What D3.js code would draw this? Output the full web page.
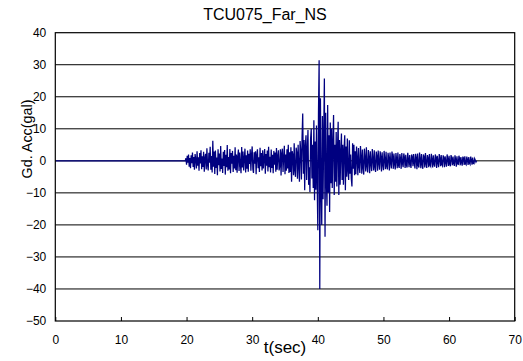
<!DOCTYPE html>
<html>
<head>
<meta charset="utf-8">
<script src="https://cdn.jsdelivr.net/npm/d3@7"></script>
<style>
  body { margin: 0; background: #fff; }
  svg { display: block; font-family: "Liberation Sans", Arial, sans-serif; }
</style>
</head>
<body>
<div id="chart"></div>
<script>
// chart text
var chartTitle = "TCU075_Far_NS";
var xLabel = "t(sec)";
var yLabel = "Gd. Acc(gal)";

// axis ticks
var xTicks = [0, 10, 20, 30, 40, 50, 60, 70];
var yTicks = [-50, -40, -30, -20, -10, 0, 10, 20, 30, 40];

// quiet part of the record (before the shaking starts)
var quietTimes = [0, 19.7];
var quietAcc = [0, 0];

var recStart = 19.8;
var recStep = 0.1;
var recAcc = [
    0, 0.8, -1.2, 1.6, -0.6, 2.0, -1.8, 0.9, -2.3, 1.7,
    -0.7, 2.6, -1.9, 1.2, -2.8, 2.1, 0.4, -2.4, 3.0, -1.5,
    1.1, -3.1, 2.4, -0.8, 3.3, -2.6, 1.4, -1.9, 2.8, -3.4,
    0.9, 2.2, -2.7, 3.9, -1.3, -3.0, 2.5, -0.6, 4.4, -2.8,
    1.5, -3.6, 6.3, -1.8, 2.9, -4.1, 3.2, -2.2, 1.0, -4.5,
    3.6, -1.4, 2.3, -3.3, 4.6, -2.5, 0.7, -3.8, 2.8, -1.6,
    3.4, -4.3, 1.9, -2.0, 4.9, -3.1, 1.2, -2.7, 3.7, -3.9,
    2.4, -0.9, 3.1, -3.5, 1.6, -2.4, 4.2, -2.9, 2.0, -3.7,
    1.3, 3.5, -3.2, 2.6, -1.1, -3.9, 4.3, -2.1, 2.9, -3.0,
    0.8, 3.8, -3.6, 1.7, -2.5, 3.2, -3.4, 2.2, -1.0, 3.6,
    -3.1, 1.9, 4.5, -2.6, -3.8, 2.7, -0.9, 3.0, -4.2, 1.8,
    3.6, -2.3, 1.1, -3.5, 4.1, -1.7, 2.4, -3.0, 3.3, -2.4,
    0.6, 3.7, -4.0, 2.1, -1.5, 3.2, -3.3, 4.4, -2.0, 1.3,
    -3.6, 3.5, -2.2, 1.9, -3.9, 3.1, -1.2, 2.6, -3.4, 4.0,
    -2.8, 1.4, 3.3, -3.0, -1.6, 3.6, -4.6, 2.3, 3.8, -3.5,
    1.2, 4.7, -4.2, 2.0, -3.1, 3.6, -2.4, 5.0, -3.8, 2.7,
    -3.5, 4.2, -6.5, 3.0, 1.8, -4.5, 5.5, -2.9, -5.0, 4.1,
    2.5, -5.6, 5.0, -1.6, -6.5, 6.2, 3.0, -5.8, 7.5, 14.8,
    -4.0, 6.5, -9.2, 4.8, 8.0, -6.0, 3.5, 9.6, -7.5, -2.0,
    -9.7, 7.0, 10.0, -5.5, 5.0, -8.5, 12.7, -12.3, 6.0, -9.0,
    11.0, -6.5, -21.7, 15.0, 31.4, -40.0, 19.5, -8.0, -20.0, 14.0,
    -12.0, 9.0, 25.7, -23.7, 15.0, -6.0, -14.0, 17.4, -10.0, 8.0,
    -16.0, 12.0, -7.0, 10.0, -8.5, 6.0, 14.3, -10.7, 5.0, -6.5,
    9.0, -8.0, 4.0, 12.2, -10.7, 6.5, -7.5, 3.0, 8.5, -6.0,
    5.0, -7.5, 3.5, 8.0, -9.2, 4.5, -5.0, 7.0, -3.0, -6.0,
    6.4, -4.0, 2.0, -5.5, -8.0, 5.5, -2.5, 5.0, -4.5, 3.0,
    -4.2, 4.5, 0.7, -4.5, 4.0, -1.6, -3.8, 4.6, 1.2, -4.0,
    3.5, -2.0, -4.3, 3.8, 0.6, -3.3, 4.2, -1.5, -3.6, 3.4,
    1.0, -3.9, 3.0, -0.8, -3.2, 3.7, 0.5, -3.0, 3.3, -1.8,
    -3.5, 2.9, 1.4, -3.1, 3.2, -0.6, -2.8, 3.0, 1.1, -3.3,
    2.7, -1.2, -2.9, 3.1, 0.4, -2.6, 2.8, -1.7, -2.7, 2.5,
    0.9, -3.0, 2.6, -0.5, -2.4, 2.9, 1.3, -2.5, 2.3, -1.0,
    -2.7, 2.4, 0.6, -2.3, 2.6, -1.4, -2.2, 2.1, 0.8, -2.5,
    2.4, -0.7, -2.0, 2.3, 1.0, -2.2, 1.9, -1.3, -2.1, 2.5,
    0.5, -2.0, 1.8, -0.9, -2.2, 2.0, 1.2, -1.7, 2.1, -0.6,
    -2.4, 2.2, 0.9, -2.6, 2.3, -1.4, -2.1, 2.6, 0.5, -2.3,
    2.1, -1.0, -2.5, 2.0, 1.2, -2.1, 2.4, -0.7, -2.2, 1.8,
    0.8, -2.0, 2.1, -1.3, -1.7, 2.2, 0.4, -2.1, 1.7, -0.9,
    -1.8, 2.0, 1.0, -2.2, 1.6, -0.5, -2.0, 2.1, 0.7, -1.7,
    1.8, -1.2, -1.6, 1.7, 0.9, -2.0, 1.4, -0.4, -1.8, 2.0,
    0.5, -1.6, 1.6, -1.0, -1.7, 1.8, 0.8, -1.4, 1.3, -0.7,
    -1.6, 1.7, 0.4, -1.8, 1.4, -0.8, -1.3, 1.6, 0.7, -1.4,
    1.2, -0.5, -1.5, 1.3, 0.8, -1.3, 1.4, -0.9, -1.2, 1.3,
    0.4, -1.3, 1.2, -0.7, -1.1, 1.3, 0.3, -1.2, 1.0, -0.8,
    -0.9, 0.7, 0.2, -0.4, 0
];

function drawChart() {
    var margin = { top: 32.7, right: 8, bottom: 40, left: 55.3 },
        width = 523 - margin.left - margin.right;

    var svg = d3.select("#chart").append("svg")
        .attr("width", 523)
        .attr("height", 361);

    var g = svg.append("g")
        .attr("transform", "translate(" + margin.left + "," + margin.top + ")");

    var x = d3.scaleLinear().domain([0, 70]).range([0, width - 0.3]);
    var y = d3.scaleLinear().domain([-50, 40]).range([288.3, 0]);

    // build the record
    var record = quietTimes.map(function (t, i) { return { t: t, a: quietAcc[i] }; });
    recAcc.forEach(function (a, i) {
        record.push({ t: recStart + i * recStep, a: a });
    });

    // horizontal grid lines
    g.append("g")
        .selectAll("line")
        .data(yTicks.filter(function (d) { return d > -50 && d < 40; }))
        .join("line")
        .attr("x1", 0)
        .attr("x2", x(70))
        .attr("y1", function (d) { return y(d); })
        .attr("y2", function (d) { return y(d); })
        .attr("stroke", "#000")
        .attr("stroke-width", 1);

    // signal
    g.append("path")
        .datum(record)
        .attr("fill", "none")
        .attr("stroke", "#000080")
        .attr("stroke-width", 1.25)
        .attr("d", d3.line()
            .x(function (d) { return x(d.t); })
            .y(function (d) { return y(d.a); }));

    // plot frame
    g.append("rect")
        .attr("x", 0)
        .attr("y", 0)
        .attr("width", x(70))
        .attr("height", y(-50))
        .attr("fill", "none")
        .attr("stroke", "#000")
        .attr("stroke-width", 1.2);

    // x axis (ticks inside)
    var xAxis = g.append("g")
        .attr("transform", "translate(0," + y(-50) + ")")
        .call(d3.axisBottom(x).tickValues(xTicks).tickSize(-4).tickPadding(14));
    xAxis.select(".domain").remove();
    xAxis.selectAll(".tick line").attr("stroke", "#000");
    xAxis.selectAll(".tick text")
        .attr("font-family", "Liberation Sans, Arial, sans-serif")
        .attr("font-size", "12px")
        .attr("fill", "#000");

    // y axis labels
    var yAxis = g.append("g")
        .call(d3.axisLeft(y).tickValues(yTicks).tickSize(0).tickPadding(9));
    yAxis.select(".domain").remove();
    yAxis.selectAll(".tick text")
        .attr("font-family", "Liberation Sans, Arial, sans-serif")
        .attr("font-size", "12px")
        .attr("fill", "#000");

    // title
    svg.append("text")
        .attr("x", 265)
        .attr("y", 20)
        .attr("text-anchor", "middle")
        .attr("font-size", "16px")
        .attr("fill", "#000")
        .text(chartTitle);

    // x axis label
    svg.append("text")
        .attr("x", 285)
        .attr("y", 353)
        .attr("text-anchor", "middle")
        .attr("font-size", "17px")
        .attr("fill", "#000")
        .text(xLabel);

    // y axis label
    svg.append("text")
        .attr("transform", "translate(32,139) rotate(-90)")
        .attr("text-anchor", "middle")
        .attr("font-size", "15px")
        .attr("textLength", 79)
        .attr("lengthAdjust", "spacingAndGlyphs")
        .attr("fill", "#000")
        .text(yLabel);
}

drawChart();
</script>
</body>
</html>
